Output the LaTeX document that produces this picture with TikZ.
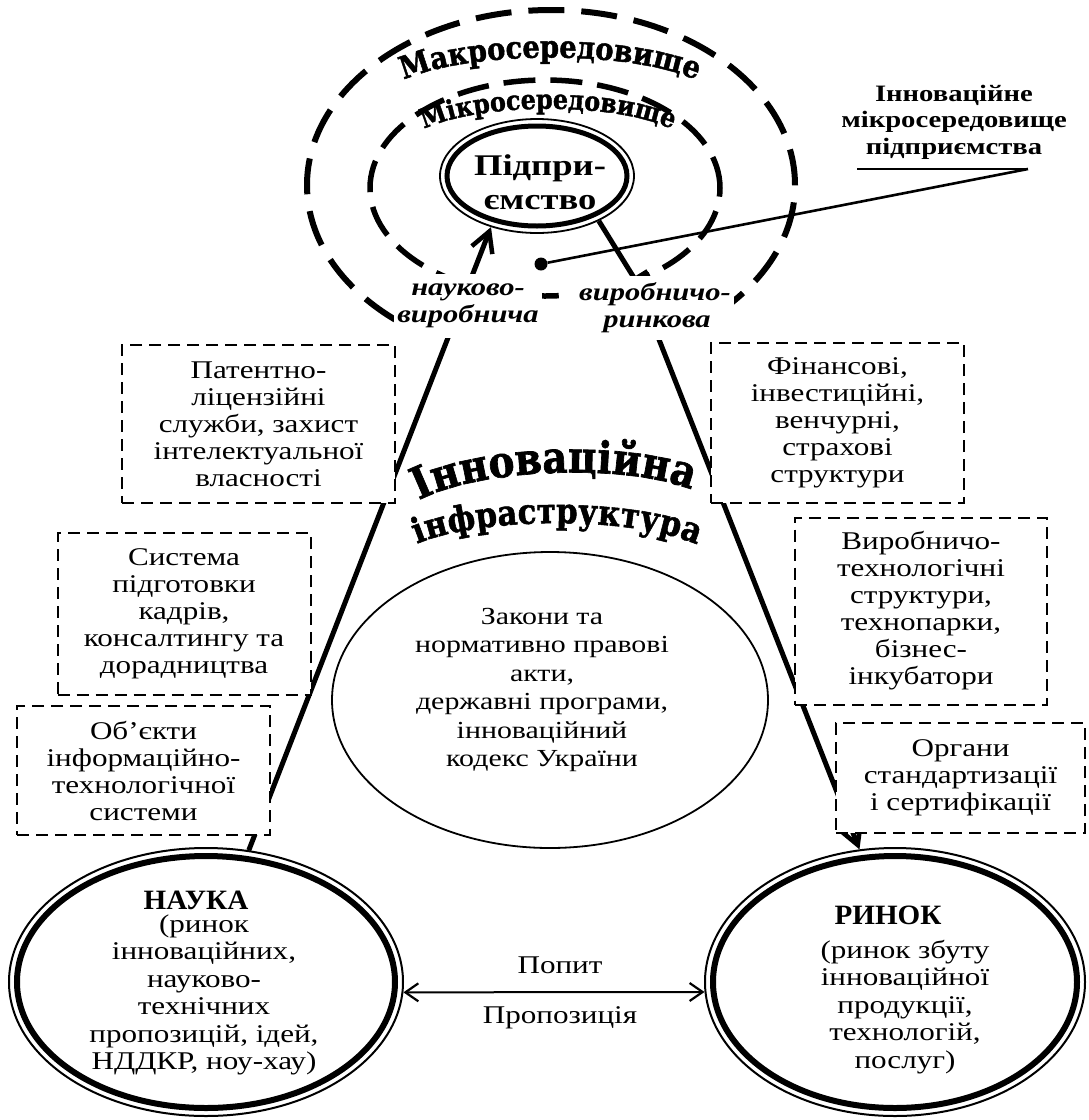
\documentclass[tikz,border=0pt]{standalone}
\usepackage{fontspec}
\setmainfont{Liberation Serif}[FakeStretch=1.22]
\newfontfamily\plainserif{Liberation Serif}[FakeStretch=1.04]
\newfontfamily\arcfont{DejaVu Serif}[FakeStretch=0.88, BoldFeatures={FakeBold=1.5}]
\usetikzlibrary{shapes.geometric,arrows.meta,decorations.text}
\begin{document}
\begin{tikzpicture}[x=1pt,y=-1pt,
  box/.style={draw, line width=2pt, dash pattern=on 12pt off 7pt, fill=white, align=center,
    inner sep=0pt, font=\fontsize{25.5}{27}\selectfont},
  bigell/.style={ellipse, draw, line width=2pt, inner sep=0pt, fill=white},
  mainln/.style={line width=5pt},
  barb/.style={-{Straight Barb[length=20pt,width=22pt,line width=4.5pt]}},
  lbl/.style={fill=white, align=center, font=\bfseries\itshape\fontsize{25}{27}\selectfont},
  bodytxt/.style={align=center, font=\fontsize{25.5}{27.5}\selectfont},
  titletxt/.style={font=\plainserif\bfseries\fontsize{28}{30}\selectfont},
  arctxt/.style={decorate}
]
\useasboundingbox (0,0) rectangle (1089,1120);

% environments
\draw[line width=6pt, dash pattern=on 36pt off 17pt] (551,185) ellipse [x radius=244pt, y radius=175pt];
\draw[line width=5.5pt, dash pattern=on 32pt off 15pt] (545,188) ellipse [x radius=175pt, y radius=108pt];
\fill[white] (398,302) rectangle (728,368);

% enterprise
\node[ellipse, draw, line width=1.8pt, minimum width=194pt, minimum height=114pt, inner sep=0pt, fill=white] (ent) at (537,176) {};
\draw[line width=5pt] (ent.center) ellipse [x radius=90pt, y radius=50pt];
\node[align=center, font=\bfseries\fontsize{30}{34}\selectfont] (enttxt) at (540,182) {Підпри-\\ємство};

% science and market
\node[bigell, minimum width=394pt, minimum height=268pt] (nauka) at (206,982) {};
\draw[line width=6pt] (nauka.center) ellipse [x radius=189pt, y radius=126pt];
\node[bigell, minimum width=380pt, minimum height=268pt] (rynok) at (895,982) {};
\draw[line width=6pt] (rynok.center) ellipse [x radius=182pt, y radius=126pt];

% central ellipse
\node[ellipse, draw, line width=1.8pt, minimum width=436pt, minimum height=296pt, inner sep=0pt] (zak) at (550,700) {};
\node[bodytxt, font=\fontsize{24.5}{28.4}\selectfont] (zaktxt) at (542,690) {Закони та\\нормативно правові\\акти,\\державні програми,\\інноваційний\\кодекс України};

% main connectors
\coordinate (tb) at (636,281);
\draw[mainln, barb] (nauka.72) -- (ent.228);
\draw[mainln, -{Bar[width=30pt,line width=4.5pt]}] (ent.-36) -- (tb);
\draw[mainln, barb] (tb) -- (rynok.105);

% labels
\node[lbl, minimum width=138pt, minimum height=64pt] (nv) at (468,306) {науково-\\виробнича};
\node[lbl, minimum width=165pt, minimum height=64pt] (vr) at (650,308) {\hspace*{10pt}виробничо-\\\hspace*{14pt}ринкова};

% boxes
\node[box, minimum width=273pt, minimum height=158pt] (pat) at (258.5,424) {Патентно-\\ліцензійні\\служби, захист\\інтелектуальної\\власності};
\node[box, minimum width=253pt, minimum height=160pt] (fin) at (837.5,423) {Фінансові,\\інвестиційні,\\венчурні,\\страхові\\структури};
\node[box, minimum width=253pt, minimum height=162pt] (sys) at (184,614) {Система\\підготовки\\кадрів,\\консалтингу та\\дорадництва};
\node[box, minimum width=252pt, minimum height=187pt] (vyr) at (921,611) {Виробничо-\\технологічні\\структури,\\технопарки,\\бізнес-\\інкубатори};
\node[box, minimum width=253pt, minimum height=129pt] (obj) at (143.5,770.5) {Об’єкти\\інформаційно-\\технологічної\\системи};
\node[box, minimum width=249pt, minimum height=110pt] (org) at (960.5,778) {Органи\\стандартизації\\і сертифікації};

% texts in science / market
\node[titletxt] (nt) at (196,900) {НАУКА};
\node[bodytxt] (nb) at (204,995) {(ринок\\інноваційних,\\науково-\\технічних\\пропозицій, ідей,\\НДДКР, ноу-хау)};
\node[titletxt] (rt) at (888,915) {РИНОК};
\node[bodytxt] (rb) at (905,1007) {(ринок збуту\\інноваційної\\продукції,\\технологій,\\послуг)};

% demand / supply
\draw[line width=2pt, {Straight Barb[length=13pt,width=18pt,line width=2.2pt]}-{Straight Barb[length=13pt,width=18pt,line width=2.2pt]}] (nauka.-3) -- (rynok.183);
\node[font=\fontsize{25.5}{27}\selectfont] (pop) at (560,965) {Попит};
\node[font=\fontsize{25.5}{27}\selectfont] (pro) at (560,1018) {Пропозиція};

% callout
\node[align=center, font=\bfseries\fontsize{23.5}{26.5}\selectfont] (callout) at (954,122) {Інноваційне\\мікросередовище\\підприємства};
\coordinate (ul1) at (857,169);
\coordinate (ul2) at (1028,169);
\node[circle, fill, inner sep=0pt, minimum size=13pt] (dot) at (541,264) {};
\draw[line width=2pt] (ul1) -- (ul2);
\draw[line width=2.6pt] (ul2) -- (dot);

% curved titles
\path[arctxt, decoration={text along path, text align=center,
  text={|\arcfont\bfseries\fontsize{31}{33}\selectfont|Макросередовище}}]
  (378,98) .. controls (420,44) and (680,44) .. (722,98);
\path[arctxt, decoration={text along path, text align=center,
  text={|\arcfont\bfseries\fontsize{27}{29}\selectfont|Мікросередовище}}]
  (398,150) .. controls (428,95) and (668,95) .. (698,150);
\path[arctxt, decoration={text along path, text align=center,
  text={|\arcfont\bfseries\fontsize{44}{46}\selectfont|Інноваційна}}]
  (390,525) .. controls (425,460) and (690,455) .. (722,512);
\path[arctxt, decoration={text along path, text align=center,
  text={|\arcfont\bfseries\fontsize{35}{37}\selectfont|інфраструктура}}]
  (388,565) .. controls (420,510) and (690,508) .. (726,566);
\end{tikzpicture}
\end{document}
